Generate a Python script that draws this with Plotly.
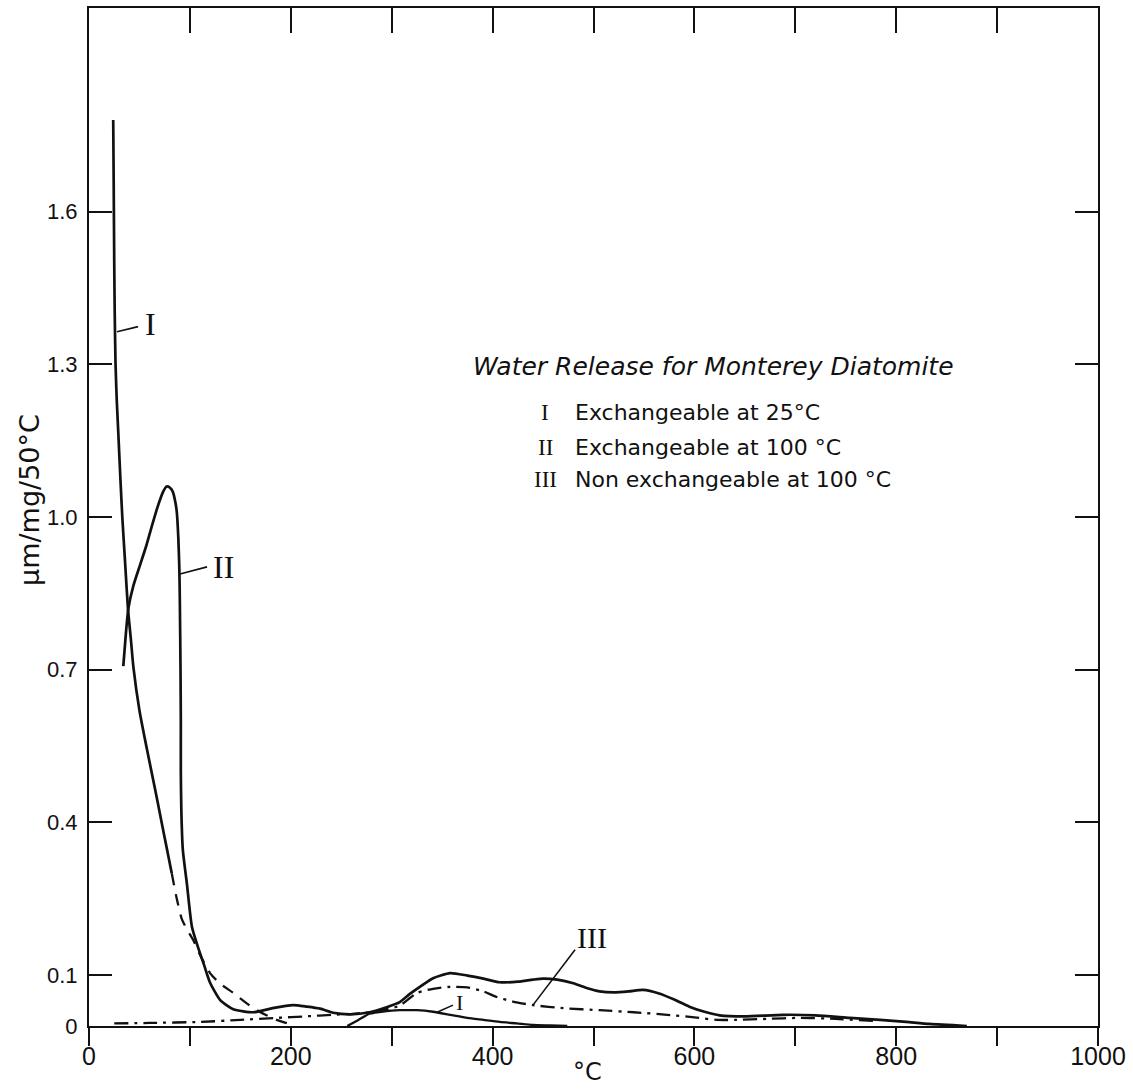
import plotly.graph_objects as go

# ---------------- data ----------------
# Curve I (exchangeable at 25 C): solid part, dashed continuation, low-temperature bump
i_solid_x = [24, 24.5, 25, 25.5, 26.3, 27.5, 29, 31, 33, 35.8, 38.6, 41.5, 44, 50, 57.5, 65, 72, 77, 82]
i_solid_y = [1.78, 1.65, 1.50, 1.40, 1.30, 1.23, 1.167, 1.08, 1.00, 0.91, 0.82, 0.76, 0.705, 0.62, 0.543, 0.47, 0.40, 0.35, 0.30]

i_dash_x = [82, 87, 92, 97, 103, 110, 120, 130, 143, 156, 169, 186, 199]
i_dash_y = [0.30, 0.25, 0.21, 0.19, 0.17, 0.14, 0.104, 0.083, 0.065, 0.045, 0.028, 0.012, 0.004]

i_low_x = [256, 267, 278, 293, 308, 325, 341, 358, 375, 391, 407, 424, 440, 457, 474]
i_low_y = [0.0, 0.012, 0.024, 0.029, 0.031, 0.031, 0.028, 0.022, 0.016, 0.012, 0.008, 0.005, 0.002, 0.001, 0.0]

# Curve II (exchangeable at 100 C)
ii_x = [34, 36.5, 39, 44, 50.5, 57, 62, 68, 73.5, 77, 80, 83, 85.5, 87, 88.5, 89.5, 90, 90.7, 91, 91, 91.5,
        93, 97, 102, 108, 114, 120, 130, 143, 163, 182, 202, 216, 229, 242, 259, 278, 295, 308, 318,
        330, 341, 358, 375, 391, 407, 425, 440, 450, 464, 480, 494, 506, 520, 535, 549, 565, 580, 595,
        610, 625, 650, 688, 720, 754, 784, 810, 833, 870]
ii_y = [0.707, 0.77, 0.82, 0.865, 0.905, 0.945, 0.98, 1.02, 1.05, 1.06, 1.058, 1.05, 1.03, 1.01, 0.96, 0.90,
        0.84, 0.70, 0.60, 0.50, 0.425, 0.346, 0.28, 0.195, 0.155, 0.12, 0.085, 0.051, 0.033, 0.027,
        0.035, 0.041, 0.038, 0.034, 0.026, 0.023, 0.027, 0.037, 0.047, 0.063, 0.08, 0.094, 0.104,
        0.099, 0.093, 0.086, 0.087, 0.091, 0.093, 0.091, 0.084, 0.074, 0.068, 0.066, 0.068, 0.071,
        0.064, 0.052, 0.038, 0.028, 0.021, 0.019, 0.022, 0.021, 0.016, 0.012, 0.008, 0.004, 0.0]

# Curve III (non exchangeable at 100 C)
iii_x = [25, 60, 110, 150, 186, 215, 242, 262, 278, 295, 308, 318, 325, 341, 358, 375, 391, 404, 420,
         440, 470, 506, 540, 573, 600, 622, 640, 672, 705, 740, 777]
iii_y = [0.005, 0.006, 0.008, 0.012, 0.016, 0.019, 0.022, 0.024, 0.027, 0.033, 0.040, 0.055, 0.065,
         0.073, 0.077, 0.076, 0.068, 0.057, 0.048, 0.041, 0.035, 0.031, 0.027, 0.022, 0.017, 0.012,
         0.012, 0.014, 0.016, 0.014, 0.010]

x_tickvals = [0, 100, 200, 300, 400, 500, 600, 700, 800, 900, 1000]
x_labelvals = [0, 200, 400, 600, 800, 1000]
x_ticktext = ["0", "200", "400", "600", "800", "1000"]
y_tickvals = [0, 0.1, 0.4, 0.7, 1.0, 1.3, 1.6]
y_ticktext = ["0", "0.1", "0.4", "0.7", "1.0", "1.3", "1.6"]

chart_title = "Water Release for Monterey Diatomite"
legend_numerals = ["I", "II", "III"]
legend_texts = ["Exchangeable at 25°C", "Exchangeable at 100 °C", "Non exchangeable at 100 °C"]

# ---------------- figure ----------------
BLACK = "#111111"
fig = go.Figure()

def add_line(x, y, dash="solid", width=2.7):
    fig.add_trace(go.Scatter(x=x, y=y, mode="lines", showlegend=False, hoverinfo="skip",
                             line=dict(color=BLACK, width=width, dash=dash,
                                       shape="spline", smoothing=0.6)))

add_line(i_solid_x, i_solid_y)
add_line(i_dash_x, i_dash_y, dash="12px,9px", width=2.3)
add_line(i_low_x, i_low_y, width=2.3)
add_line(ii_x, ii_y)
add_line(iii_x, iii_y, dash="14px,6px,3px,6px", width=2.3)

# dummy traces for the tick-only axes
fig.add_trace(go.Scatter(x=[], y=[], xaxis="x2", showlegend=False))
fig.add_trace(go.Scatter(x=[], y=[], xaxis="x3", showlegend=False))

# curve labels with leader lines
serif = "Liberation Serif"
labels = [
    # text, text x, text y, leader from (x0,y0) to (x1,y1), size
    ("I", 60.5, 1.38, (27.8, 1.364), (48.6, 1.374), 32),
    ("II", 133, 0.902, (90.2, 0.888), (117, 0.902), 32),
    ("III", 498.5, 0.173, (440, 0.041), (481.7, 0.150), 30),
    ("I", 366.7, 0.047, (345, 0.027), (360.7, 0.041), 22),
]
for txt, tx, ty, p0, p1, sz in labels:
    fig.add_shape(type="line", xref="x", yref="y", x0=p0[0], y0=p0[1], x1=p1[0], y1=p1[1],
                  line=dict(color=BLACK, width=1.6))
    fig.add_annotation(x=tx, y=ty, xref="x", yref="y", text=txt, showarrow=False,
                       font=dict(family=serif, size=sz, color=BLACK))

# title and legend text
fig.add_annotation(x=619.4, y=1.295, xref="x", yref="y", text="<i>" + chart_title + "</i>",
                   showarrow=False, font=dict(family="DejaVu Sans", size=25, color=BLACK))
leg_y = [1.206, 1.137, 1.073]
for num, txt, yy in zip(legend_numerals, legend_texts, leg_y):
    fig.add_annotation(x=452, y=yy, xref="x", yref="y", text=num, showarrow=False,
                       xanchor="center", font=dict(family=serif, size=23, color=BLACK))
    fig.add_annotation(x=479.7, y=yy, xref="x", yref="y", text=txt, showarrow=False,
                       xanchor="left", font=dict(family="DejaVu Sans", size=22, color=BLACK))

# axis titles
fig.add_annotation(x=-0.0585, y=0.5167, xref="paper", yref="paper", text="μm/mg/50°C",
                   textangle=-90, showarrow=False, xanchor="center", yanchor="middle",
                   font=dict(family="DejaVu Sans", size=27, color=BLACK))
fig.add_annotation(x=0.4945, y=-0.0452, xref="paper", yref="paper", text="°C",
                   showarrow=False, xanchor="center", yanchor="middle",
                   font=dict(family="DejaVu Sans", size=24, color=BLACK))

fig.update_layout(
    width=1133, height=1090,
    margin=dict(l=89, r=35, t=8, b=64),
    paper_bgcolor="white", plot_bgcolor="white",
    xaxis=dict(range=[0, 1000], tickmode="array", tickvals=x_labelvals, ticktext=x_ticktext,
               ticks="", ticklabelstandoff=7,
               showline=True, linewidth=2, linecolor=BLACK, showgrid=False, zeroline=False,
               tickfont=dict(family="Liberation Sans", size=25, color=BLACK)),
    xaxis2=dict(range=[0, 1000], overlaying="x", side="top", anchor="y", matches="x",
                tickmode="array", tickvals=x_tickvals, ticks="inside", ticklen=25, tickwidth=2,
                tickcolor=BLACK, showticklabels=False, showline=True, linewidth=2, linecolor=BLACK,
                showgrid=False, zeroline=False),
    xaxis3=dict(range=[0, 1000], overlaying="x", side="bottom", anchor="y", matches="x",
                tickmode="array", tickvals=x_tickvals, ticks="outside", ticklen=19, tickwidth=2,
                tickcolor=BLACK, showticklabels=False, showline=False,
                showgrid=False, zeroline=False),
    yaxis=dict(range=[0, 2.0], tickmode="array", tickvals=y_tickvals, ticktext=y_ticktext,
               ticks="inside", ticklen=23, tickwidth=2, tickcolor=BLACK,
               showline=True, linewidth=2, linecolor=BLACK, mirror="ticks",
               showgrid=False, zeroline=False, ticklabelstandoff=5,
               tickfont=dict(family="Liberation Sans", size=22, color=BLACK)),
)

fig.write_html("out.html")
